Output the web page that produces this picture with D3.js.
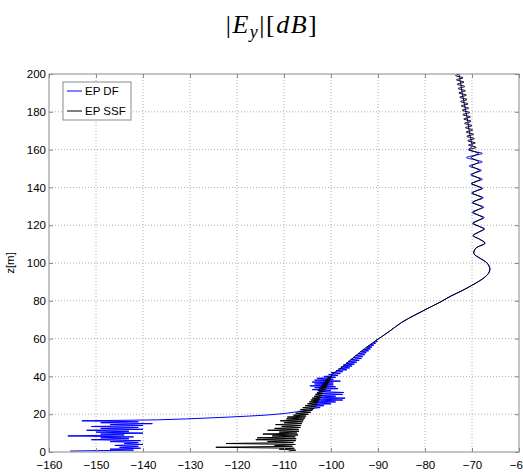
<!DOCTYPE html>
<html><head><meta charset="utf-8">
<script src="https://cdn.jsdelivr.net/npm/d3@7"></script>
<style>body{margin:0;background:#fff}</style></head>
<body>
<svg id="c" width="523" height="472"></svg>
<script>
// ---- data ----
const xTicks = [-160,-150,-140,-130,-120,-110,-100,-90,-80,-70,-60];
const yTicks = [0,20,40,60,80,100,120,140,160,180,200];
const seriesNames = ["EP DF","EP SSF"];
const seriesColors = ["#0000ff","#000000"];

// EP DF (blue), lower jagged part (straight segments)
const dfLowZ = [0.5,1.0,1.5,2.0,2.5,3.0,3.5,4.0,4.5,5.0,5.5,6.0,6.5,7.0,7.5,8.0,8.5,9.0,9.5,10.0,10.5,11.0,11.5,12.0,12.5,13.0,13.5,14.0,14.5,15.0,15.5,16.0,16.5,17.0,17.5,18.0,18.5,19.0,19.5,20.0,20.5,21.0,21.5,22.0,22.5,23.0,23.5,24.0,24.5,25.0,25.5,26.0,26.5,27.0,27.5,28.0,28.5,29.0,29.5,30.0,30.5,31.0,31.5,32.0,32.5,33.0,33.5,34.0,34.5,35.0,35.5,36.0,36.5,37.0,37.5,38.0,38.5,39.0,39.5,40.0,40.5,41.0,41.5,42.0,42.5,43.0,43.5,44.0,44.5,45.0,45.5,46.0,46.5,47.0,47.5,48.0,48.5,49.0,49.5,50.0,50.5,51.0,51.5,52.0,52.5,53.0,53.5,54.0,54.5,55.0,55.5,56.0,56.5,57.0,57.5,58.0,58.5,59.0,60.0];
const dfLowDb = [-155.5,-142,-147,-140.5,-145,-141,-146,-140,-144,-141,-147,-140.5,-151,-143,-149,-142,-156,-144,-149,-140,-150,-143,-152,-140,-149,-141,-151,-140,-147,-138,-149,-141,-153,-137,-131,-126,-121.5,-117.5,-114,-111.5,-109.5,-108,-106.5,-105,-103.8,-104.2,-102.3,-104.3,-101.5,-104,-100,-103.5,-99,-103.5,-97.5,-103,-97,-103,-99,-102.5,-97.5,-103,-97.3,-102.5,-100,-104,-98.5,-103.5,-99,-104.5,-99.5,-103.5,-99.5,-104,-98,-103.5,-99.5,-103,-99,-101.5,-98.5,-100.5,-98,-100,-97.5,-98.9,-96.6,-98.4,-96,-97.9,-95.5,-97.4,-95,-96.8,-94.5,-96.3,-94,-95.8,-93.5,-95.3,-93.2,-94.8,-92.8,-94.2,-92.5,-93.7,-92,-93.2,-91.6,-92.6,-91.3,-92.1,-90.9,-91.5,-90.5,-91,-90.1,-90.5,-89.8];

// EP DF (blue), upper smooth part
const dfHighZ = [60,64,68.5,72,75.5,79,82.5,85.5,88.5,91.5,94.5,97,100,102.5,105,107.8,110.5,112.6,114.5,116.3,118,119.5,121,122.5,124,125.4,126.8,128.2,129.5,130.8,132,133.3,134.5,135.8,137,138.3,139.5,140.8,142,143.2,144.3,145.5,146.7,147.9,149,150.1,151.3,152.4,153.5,154.6,155.8,156.9,158,159,160,161.5,165,170,175,180,185,190,195,200];
const dfHighDb = [-89.8,-87.5,-85,-82.5,-79.8,-77,-74.5,-72,-69.8,-67.8,-66.5,-66.2,-66.8,-68.3,-69.6,-69.2,-67.2,-68.4,-69.8,-68.6,-67.3,-68.6,-69.9,-68.7,-67.4,-68.7,-70,-68.8,-67.5,-68.8,-70,-68.8,-67.6,-68.9,-70.1,-68.9,-67.7,-69,-70.2,-69,-67.8,-69.1,-70.3,-69.2,-68,-69.2,-70.6,-69.3,-67.8,-69.4,-71.2,-69.5,-67.8,-69.6,-70.8,-70,-70.2,-70.6,-70.9,-71.3,-71.7,-72.1,-72.4,-72.8];

// EP SSF (black), lower jagged part
const ssfLowZ = [0.5,1.0,1.5,2.0,2.5,3.0,3.5,4.0,4.5,5.0,5.5,6.0,6.5,7.0,7.5,8.0,8.5,9.0,9.5,10.0,10.5,11.0,11.5,12.0,12.5,13.0,13.5,14.0,14.5,15.0,15.5,16.0,16.5,17.0,17.5,18.0,18.5,19.0,19.5,20.0,20.5,21.0,21.5,22.0,22.5,23.0,23.5,24.0,24.5,25.0,25.5,26.0,26.5,27.0,27.5,28.0,28.5,29.0,29.5,30.0,30.5,31.0,31.5,32.0,32.5,33.0,33.5,34.0,34.5,35.0,35.5,36.0,36.5,37.0,37.5,38.0,38.5,39.0,39.5,40.0,41.0,42.0];
const ssfLowDb = [-109,-107.5,-111,-107.8,-124.5,-108.2,-112,-107.6,-122.3,-108,-113.5,-107.5,-116,-107.4,-115.7,-107.6,-112.5,-107,-114.5,-107.2,-111,-106.8,-113.5,-106.9,-112,-106.5,-110.5,-106.4,-111.8,-106.2,-110,-106,-110.8,-105.8,-109.5,-105.5,-109.3,-105.3,-108,-104.8,-107.5,-104.3,-106.8,-104,-106.5,-103.6,-106,-103.3,-105.5,-103,-105,-102.8,-104.6,-102.6,-104.3,-102.4,-104,-102.1,-103.6,-101.9,-103.3,-101.7,-103,-101.4,-102.8,-101.2,-102.5,-101,-102.2,-100.8,-101.9,-100.6,-101.6,-100.4,-101.3,-100.2,-101,-100,-100.7,-99.8,-99.9,-99.3];

// EP SSF (black), upper smooth part
const ssfHighZ = [42,45,50,55,60,64,68.5,72,75.5,79,82.5,85.5,88.5,91.5,94.5,97,100,102.5,105,107.8,110.5,112.6,114.5,116.3,118,119.5,121,122.5,124,125.4,126.8,128.2,129.5,130.8,132,133.3,134.5,135.8,137,138.3,139.5,140.8,142,143.2,144.3,145.5,146.7,147.9,149,150.1,151.3,152.4,153.5,154.6,155.8,156.9,158,159,160.0,161.2,162.4,163.5,164.7,165.8,167.0,168.1,169.3,170.4,171.6,172.7,173.9,175.0,176.2,177.3,178.5,179.6,180.8,181.9,183.1,184.2,185.4,186.5,187.7,188.8,190.0,191.1,192.3,193.4,194.6,195.7,196.9,198.0,199.2,200.4];
const ssfHighDb = [-99.3,-97.6,-95.2,-92.7,-89.8,-87.5,-85,-82.5,-79.8,-77,-74.5,-72,-69.8,-67.8,-66.5,-66.2,-66.8,-68.3,-69.6,-69.2,-67.3,-68.4,-69.7,-68.6,-67.5,-68.6,-69.7,-68.7,-67.7,-68.7,-69.7,-68.7,-67.8,-68.8,-69.8,-68.9,-67.9,-68.9,-69.9,-69,-68,-69,-70,-69.1,-68.2,-69.1,-70,-69.2,-68.4,-69.2,-70.1,-69.3,-68.5,-69.3,-70.2,-69.4,-68.6,-69.5,-70.55,-69.1,-70.75,-69.3,-70.9,-69.5,-71.1,-69.65,-71.25,-69.85,-71.4,-70.0,-71.6,-70.2,-71.75,-70.35,-71.95,-70.5,-72.1,-70.7,-72.3,-70.85,-72.45,-71.05,-72.6,-71.2,-72.8,-71.4,-72.95,-71.55,-73.15,-71.7,-73.3,-71.9,-73.5,-72.1];

// ---- drawing ----
const svg = d3.select("#c");
const L=49, R=519, T=74, B=452;
const x = d3.scaleLinear().domain([-160,-60]).range([L,R]);
const y = d3.scaleLinear().domain([0,200]).range([B,T]);
const axisColor = "#8a8a8a";
const font = "'Liberation Sans', Arial, sans-serif";

// title
const title = svg.append("text").attr("x",272).attr("y",33).attr("text-anchor","middle")
  .style("font-family","'Liberation Serif','Times New Roman',serif").style("font-size","26px")
  .style("letter-spacing","1.5px");
title.append("tspan").text("|");
title.append("tspan").style("font-style","italic").text("E");
title.append("tspan").style("font-style","italic").style("font-size","18px").attr("dy",5).text("y");
title.append("tspan").attr("dy",-5).text("|[");
title.append("tspan").style("font-style","italic").text("dB");
title.append("tspan").text("]");

// grid
const g = svg.append("g");
g.selectAll(".gx").data(xTicks.slice(1,-1)).join("line")
  .attr("x1",d=>x(d)).attr("x2",d=>x(d)).attr("y1",T).attr("y2",B)
  .attr("stroke","#b0b0b0").attr("stroke-width",1).attr("stroke-dasharray","1,2");
g.selectAll(".gy").data(yTicks.slice(1,-1)).join("line")
  .attr("y1",d=>y(d)).attr("y2",d=>y(d)).attr("x1",L).attr("x2",R)
  .attr("stroke","#b0b0b0").attr("stroke-width",1).attr("stroke-dasharray","1,2");

// clip
svg.append("clipPath").attr("id","clip").append("rect").attr("x",L).attr("y",T).attr("width",R-L).attr("height",B-T);
const plot = svg.append("g").attr("clip-path","url(#clip)");

const lin = d3.line().x(d=>x(d[0])).y(d=>y(d[1]));
const smooth = d3.line().x(d=>x(d[0])).y(d=>y(d[1])).curve(d3.curveCatmullRom.alpha(0.5));
const zip = (a,b)=>a.map((v,i)=>[v,b[i]]);

plot.append("path").datum(zip(dfLowDb,dfLowZ)).attr("d",lin).attr("fill","none").attr("stroke",seriesColors[0]).attr("stroke-width",1);
plot.append("path").datum(zip(dfHighDb,dfHighZ)).attr("d",smooth).attr("fill","none").attr("stroke",seriesColors[0]).attr("stroke-width",1);
plot.append("path").datum(zip(ssfLowDb,ssfLowZ)).attr("d",lin).attr("fill","none").attr("stroke",seriesColors[1]).attr("stroke-width",1);
plot.append("path").datum(zip(ssfHighDb,ssfHighZ)).attr("d",smooth).attr("fill","none").attr("stroke",seriesColors[1]).attr("stroke-width",1);

// frame
svg.append("rect").attr("x",L).attr("y",T).attr("width",R-L).attr("height",B-T)
  .attr("fill","none").attr("stroke",axisColor).attr("stroke-width",1);

// axes
function style(sel){
  sel.select(".domain").remove();
  sel.selectAll(".tick line").attr("stroke",axisColor);
  sel.selectAll("text").attr("fill","#000").style("font-family",font).style("font-size","11.5px");
}
svg.append("g").attr("transform",`translate(0,${B})`)
  .call(d3.axisBottom(x).tickValues(xTicks).tickSize(-4).tickPadding(9).tickFormat(d3.format("d"))).call(style);
svg.append("g").attr("transform",`translate(0,${T})`)
  .call(d3.axisTop(x).tickValues(xTicks).tickSize(-4).tickFormat("")).call(style);
svg.append("g").attr("transform",`translate(${L},0)`)
  .call(d3.axisLeft(y).tickValues(yTicks).tickSize(-4).tickPadding(3).tickFormat(d3.format("d"))).call(style);
svg.append("g").attr("transform",`translate(${R},0)`)
  .call(d3.axisRight(y).tickValues(yTicks).tickSize(-4).tickFormat("")).call(style);

// y label
svg.append("text").attr("transform","translate(14,263) rotate(-90)").attr("text-anchor","middle")
  .style("font-family",font).style("font-size","11.5px").text("z[m]");

// legend
const lg = svg.append("g");
lg.append("rect").attr("x",63).attr("y",82).attr("width",68).attr("height",38)
  .attr("fill","#fff").attr("stroke",axisColor);
seriesNames.forEach((n,i)=>{
  const yy = 91 + i*20;
  lg.append("line").attr("x1",67).attr("x2",82).attr("y1",yy).attr("y2",yy).attr("stroke",seriesColors[i]).attr("stroke-width",1);
  lg.append("text").attr("x",85).attr("y",yy+4).style("font-family",font).style("font-size","11.5px").text(n);
});
</script>
</body></html>
